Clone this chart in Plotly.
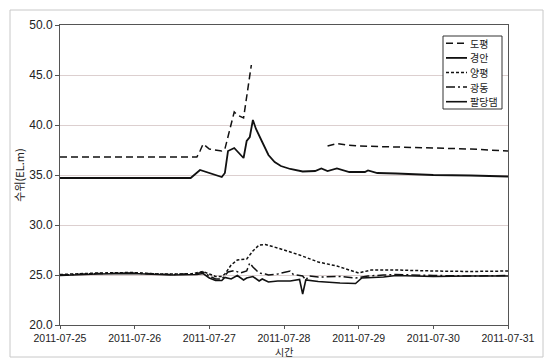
import pandas as pd
import plotly.graph_objects as go

# ---- data: water level (EL.m) by station ----
dopyeong_t = ["2011-07-25 00:00", "2011-07-26 20:00", "2011-07-26 21:00", "2011-07-26 22:00",
              "2011-07-27 00:00", "2011-07-27 04:00", "2011-07-27 05:00", "2011-07-27 08:00",
              "2011-07-27 09:00", "2011-07-27 11:00", "2011-07-27 13:30", "2011-07-27 15:00",
              "2011-07-28 14:00", "2011-07-28 17:00", "2011-07-28 20:00", "2011-07-29 00:00",
              "2011-07-29 12:00", "2011-07-30 00:00", "2011-07-30 12:00", "2011-07-31 00:00"]
dopyeong_v = [36.8, 36.8, 37.4, 38.1,
              37.6, 37.4, 37.6, 41.3,
              41.0, 40.7, 46.0, None,
              37.9, 38.15, 38.0, 37.9,
              37.8, 37.7, 37.6, 37.4]

gyeongan_t = ["2011-07-25 00:00", "2011-07-26 18:00", "2011-07-26 21:00", "2011-07-26 23:00",
              "2011-07-27 02:00", "2011-07-27 04:00", "2011-07-27 05:00", "2011-07-27 06:00",
              "2011-07-27 08:00", "2011-07-27 10:00", "2011-07-27 11:00", "2011-07-27 12:00",
              "2011-07-27 13:00", "2011-07-27 14:00", "2011-07-27 15:00", "2011-07-27 17:00",
              "2011-07-27 19:00", "2011-07-27 21:00", "2011-07-27 23:00", "2011-07-28 02:00",
              "2011-07-28 06:00", "2011-07-28 10:00", "2011-07-28 12:00", "2011-07-28 14:00",
              "2011-07-28 17:00", "2011-07-28 21:00", "2011-07-29 02:00", "2011-07-29 03:00",
              "2011-07-29 06:00", "2011-07-29 12:00", "2011-07-30 00:00", "2011-07-30 12:00",
              "2011-07-31 00:00"]
gyeongan_v = [34.7, 34.7, 35.5, 35.3,
              35.0, 34.8, 35.2, 37.4,
              37.7, 37.1, 36.7, 38.4,
              38.8, 40.5, 39.6, 38.3,
              37.0, 36.3, 35.9, 35.6,
              35.35, 35.4, 35.65, 35.4,
              35.65, 35.3, 35.3, 35.45,
              35.2, 35.15, 35.0, 34.95,
              34.85]

yangpyeong_t = ["2011-07-25 00:00", "2011-07-25 12:00", "2011-07-25 23:00", "2011-07-26 08:00",
                "2011-07-26 18:00", "2011-07-26 22:00", "2011-07-27 00:00", "2011-07-27 02:00",
                "2011-07-27 04:00", "2011-07-27 05:00", "2011-07-27 07:00", "2011-07-27 09:00",
                "2011-07-27 12:00", "2011-07-27 14:00", "2011-07-27 16:00", "2011-07-27 18:00",
                "2011-07-27 22:00", "2011-07-28 05:00", "2011-07-28 11:00", "2011-07-28 17:00",
                "2011-07-28 21:00", "2011-07-29 00:00", "2011-07-29 04:00", "2011-07-29 12:00",
                "2011-07-30 00:00", "2011-07-30 12:00", "2011-07-31 00:00"]
yangpyeong_v = [25.05, 25.2, 25.25, 25.1,
                25.1, 25.35, 25.1, 24.85,
                24.85, 25.1, 26.0, 26.5,
                26.6, 27.4, 28.0, 28.05,
                27.7, 27.0, 26.3, 25.9,
                25.5, 25.2, 25.5, 25.5,
                25.4, 25.35, 25.4]

gwangdong_t = ["2011-07-25 00:00", "2011-07-25 12:00", "2011-07-25 23:00", "2011-07-26 12:00",
               "2011-07-26 20:00", "2011-07-26 22:00", "2011-07-27 00:00", "2011-07-27 02:00",
               "2011-07-27 04:00", "2011-07-27 06:00", "2011-07-27 08:00", "2011-07-27 10:00",
               "2011-07-27 12:00", "2011-07-27 13:00", "2011-07-27 14:00", "2011-07-27 16:00",
               "2011-07-27 18:00", "2011-07-27 19:00", "2011-07-27 22:00", "2011-07-28 02:00",
               "2011-07-28 03:00", "2011-07-28 06:00", "2011-07-28 07:00", "2011-07-28 08:00",
               "2011-07-28 11:00", "2011-07-28 18:00", "2011-07-28 23:00", "2011-07-29 03:00",
               "2011-07-29 08:00", "2011-07-29 12:00", "2011-07-30 00:00", "2011-07-30 12:00",
               "2011-07-31 00:00"]
gwangdong_v = [25.0, 25.15, 25.2, 25.05,
               25.15, 25.3, 24.9, 24.6,
               24.6, 25.3, 25.45, 25.2,
               25.4, 26.2, 25.8, 25.2,
               25.1, 25.0, 25.1, 25.4,
               25.05, 24.9, 24.5, 24.9,
               24.8, 24.85, 24.7, 24.9,
               25.0, 25.05, 24.95, 24.9,
               24.95]

paldang_t = ["2011-07-25 00:00", "2011-07-25 12:00", "2011-07-25 23:00", "2011-07-26 12:00",
             "2011-07-26 20:00", "2011-07-26 22:00", "2011-07-27 00:00", "2011-07-27 02:00",
             "2011-07-27 04:00", "2011-07-27 05:00", "2011-07-27 07:00", "2011-07-27 09:00",
             "2011-07-27 11:00", "2011-07-27 12:00", "2011-07-27 14:00", "2011-07-27 16:00",
             "2011-07-27 17:00", "2011-07-27 19:00", "2011-07-27 22:00", "2011-07-28 02:00",
             "2011-07-28 05:00", "2011-07-28 06:00", "2011-07-28 07:00", "2011-07-28 11:00",
             "2011-07-28 18:00", "2011-07-28 23:00", "2011-07-29 01:00", "2011-07-29 08:00",
             "2011-07-29 12:00", "2011-07-30 00:00", "2011-07-30 12:00", "2011-07-31 00:00"]
paldang_v = [24.95, 25.1, 25.15, 25.0,
             25.05, 25.15, 24.7, 24.45,
             24.45, 24.75, 24.6, 24.95,
             24.5, 24.7, 24.85, 24.4,
             24.6, 24.3, 24.4, 24.4,
             24.55, 23.1, 24.5, 24.35,
             24.2, 24.15, 24.7, 24.8,
             24.95, 24.85, 24.9, 24.9]

station_names = ["도평", "경안", "양평", "광동", "팔당댐"]
y_ticks = [20, 25, 30, 35, 40, 45, 50]
x_days = ["2011-07-25", "2011-07-26", "2011-07-27", "2011-07-28",
          "2011-07-29", "2011-07-30", "2011-07-31"]

# ---- styles ----
INK = "#111111"
NUM_FONT = "Liberation Sans, Noto Sans CJK KR, sans-serif"
KR_FONT = "Noto Sans CJK KR, sans-serif"
dash_styles = ["7px,4px", "solid", "3px,2px", "9px,3px,2px,3px", "solid"]
widths = [1.5, 1.8, 1.5, 1.5, 1.6]

series = [
    (dopyeong_t, dopyeong_v),
    (gyeongan_t, gyeongan_v),
    (yangpyeong_t, yangpyeong_v),
    (gwangdong_t, gwangdong_v),
    (paldang_t, paldang_v),
]

fig = go.Figure()
for name, (t, v), dash, w in zip(station_names, series, dash_styles, widths):
    fig.add_trace(go.Scatter(
        x=pd.to_datetime(t), y=v, mode="lines", name=name,
        line=dict(color=INK, width=w, dash=dash),
        connectgaps=False, showlegend=False,
    ))

# plot-area geometry (pixels) used for the paper-coordinate decorations
W, H = 547, 360
ML, MR, MT, MB = 60, 39, 25, 35
PW, PH = W - ML - MR, H - MT - MB


def px(xp):
    return (xp - ML) / PW


def py(yp):
    return (H - MB - yp) / PH


shapes = []
annotations = []

# outer frame
shapes.append(dict(type="rect", xref="paper", yref="paper",
                   x0=px(10), x1=px(543), y0=py(357), y1=py(10),
                   line=dict(color="#c8c8c8", width=1), layer="below"))

# legend box with line samples
lg_left, lg_right, lg_top, lg_bottom = 443, 502, 36, 109
shapes.append(dict(type="rect", xref="paper", yref="paper",
                   x0=px(lg_left), x1=px(lg_right), y0=py(lg_bottom), y1=py(lg_top),
                   line=dict(color="#333333", width=1), fillcolor="white"))
row_h = (lg_bottom - lg_top) / len(station_names)
for i, (name, dash, w) in enumerate(zip(station_names, dash_styles, widths)):
    yc = lg_top + row_h * (i + 0.5)
    shapes.append(dict(type="line", xref="paper", yref="paper",
                       x0=px(446), x1=px(467), y0=py(yc), y1=py(yc),
                       line=dict(color=INK, width=w, dash=dash)))
    annotations.append(dict(xref="paper", yref="paper", x=px(469), y=py(yc),
                            text=name, showarrow=False, xanchor="left", yanchor="middle",
                            borderpad=0, height=13,
                            font=dict(family=KR_FONT, size=10, color="#222222")))

# x-axis title, set just under the date labels
annotations.append(dict(xref="paper", yref="paper", x=0.5, y=py(H), yshift=0,
                        text="시간", showarrow=False, xanchor="center", yanchor="bottom",
                        borderpad=0,
                        font=dict(family=KR_FONT, size=10, color="#222222")))

fig.update_layout(
    width=W, height=H,
    margin=dict(l=ML, r=MR, t=MT, b=MB, pad=0, autoexpand=False),
    paper_bgcolor="white", plot_bgcolor="white",
    shapes=shapes, annotations=annotations,
    showlegend=False,
    xaxis=dict(
        type="date", automargin=False,
        range=[x_days[0], x_days[-1]],
        tickvals=pd.to_datetime(x_days), ticktext=x_days,
        ticks="outside", ticklen=3, tickcolor="#555555",
        showgrid=False, zeroline=False,
        showline=True, linecolor="#555555", linewidth=1, mirror=True,
        tickfont=dict(family=NUM_FONT, size=10.5, color="#222222"),
    ),
    yaxis=dict(
        automargin=False,
        range=[20, 50], tickvals=y_ticks,
        ticktext=[f"{v:.1f}" for v in y_ticks],
        ticks="outside", ticklen=4, tickcolor="#555555",
        showgrid=True, gridcolor="#dccfcf", gridwidth=1,
        zeroline=False,
        showline=True, linecolor="#555555", linewidth=1, mirror=True,
        tickfont=dict(family=NUM_FONT, size=12, color="#222222"),
        title=dict(text="수위(EL.m)", standoff=2,
                   font=dict(family=KR_FONT, size=11, color="#222222")),
    ),
)

fig.write_html("out.html")
